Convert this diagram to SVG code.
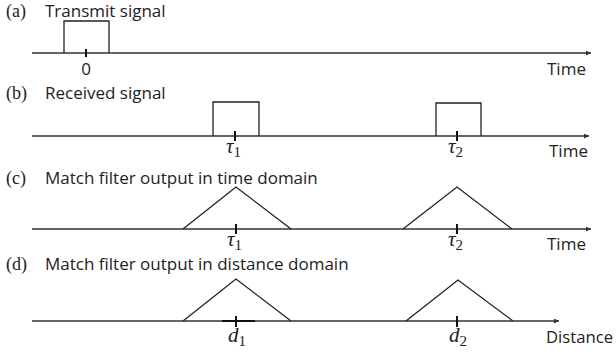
<svg xmlns="http://www.w3.org/2000/svg" width="616" height="356" viewBox="0 0 616 356">
<style>
.t{font-family:"Open Sans","Liberation Sans",sans-serif;font-size:17px;fill:#222}
.s{font-family:"Liberation Serif",serif;font-size:18px;fill:#222}
.m{font-family:"Liberation Serif",serif;font-size:21px;font-style:italic;fill:#222}
.sub{font-family:"Liberation Serif",serif;font-size:15px;fill:#222}
.ax{stroke:#333;stroke-width:1.3;fill:none}
.sig{stroke:#222;stroke-width:1.3;fill:none}
.tk{stroke:#111;stroke-width:2}
</style>
<defs>
<marker id="ah" markerUnits="userSpaceOnUse" markerWidth="6" markerHeight="5" refX="5" refY="2.5" orient="auto">
<path d="M0,0 L5,2.5 L0,5 z" fill="#333"/>
</marker>
</defs>
<rect width="616" height="356" fill="#fff"/>

<g id="panel-a">
<text class="s" x="6" y="17">(a)</text>
<text class="t" x="45" y="17">Transmit signal</text>
<line class="ax" x1="32" y1="53" x2="591" y2="53" marker-end="url(#ah)"/>
<polyline class="sig" points="64,53 64,21 109,21 109,53"/>
<line class="tk" x1="86" y1="49" x2="86" y2="57"/>
<text class="t" x="86" y="75" text-anchor="middle">0</text>
<text class="t" x="547" y="75">Time</text>
</g>

<g id="panel-b">
<text class="s" x="6" y="99">(b)</text>
<text class="t" x="45" y="99">Received signal</text>
<line class="ax" x1="32" y1="136" x2="589" y2="136" marker-end="url(#ah)"/>
<polyline class="sig" points="213,136 213,102 259,102 259,136"/>
<polyline class="sig" points="436,136 436,103 481,103 481,136"/>
<line class="tk" x1="235" y1="131" x2="235" y2="141"/>
<line class="tk" x1="457" y1="131" x2="457" y2="141"/>
<text x="226" y="153"><tspan class="m">τ</tspan><tspan class="sub" dy="4">1</tspan></text>
<text x="448" y="153"><tspan class="m">τ</tspan><tspan class="sub" dy="4">2</tspan></text>
<text class="t" x="549" y="157">Time</text>
</g>

<g id="panel-c">
<text class="s" x="6" y="184">(c)</text>
<text class="t" x="45" y="184">Match filter output in time domain</text>
<line class="ax" x1="32" y1="229" x2="591" y2="229" marker-end="url(#ah)"/>
<polyline class="sig" points="183,229 236,187 291,229"/>
<polyline class="sig" points="403,229 457,187 512,229"/>
<line class="tk" x1="236" y1="224" x2="236" y2="234"/>
<line class="tk" x1="457" y1="224" x2="457" y2="234"/>
<text x="227" y="246"><tspan class="m">τ</tspan><tspan class="sub" dy="4">1</tspan></text>
<text x="448" y="246"><tspan class="m">τ</tspan><tspan class="sub" dy="4">2</tspan></text>
<text class="t" x="547" y="250">Time</text>
</g>

<g id="panel-d">
<text class="s" x="6" y="270">(d)</text>
<text class="t" x="45" y="270">Match filter output in distance domain</text>
<line class="ax" x1="32" y1="321" x2="559" y2="321" marker-end="url(#ah)"/>
<line x1="222" y1="321" x2="255" y2="321" stroke="#111" stroke-width="2"/>
<polyline class="sig" points="183,321 236,279 291,321"/>
<polyline class="sig" points="406,321 458,280 513,321"/>
<line class="tk" x1="236" y1="316" x2="236" y2="327"/>
<line class="tk" x1="457" y1="316" x2="457" y2="327"/>
<text x="228" y="342"><tspan class="m">d</tspan><tspan class="sub" dy="4">1</tspan></text>
<text x="449" y="342"><tspan class="m">d</tspan><tspan class="sub" dy="4">2</tspan></text>
<text class="t" x="546" y="343" textLength="67" lengthAdjust="spacingAndGlyphs">Distance</text>
</g>
</svg>
